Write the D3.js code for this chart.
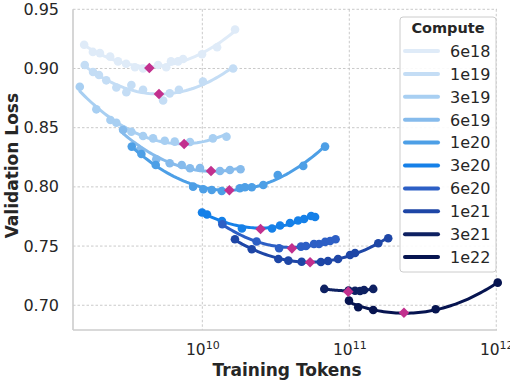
<!DOCTYPE html>
<html>
<head>
<meta charset="utf-8">
<script src="https://cdn.jsdelivr.net/npm/d3@7"></script>
<style>
  html, body { margin: 0; padding: 0; background: #fff; }
  svg { display: block; }
  text { font-family: "DejaVu Sans", sans-serif; }
</style>
</head>
<body>
<svg id="chart" width="510" height="382"></svg>
<script>
// ---------------- DATA ----------------
const computeLabels = ["6e18", "1e19", "3e19", "6e19", "1e20", "3e20", "6e20", "1e21", "3e21", "1e22"];
const seriesColors = ["#dfebf8", "#c4ddf5", "#a8cff2", "#86bbec", "#4d9fe6", "#1580e8", "#2d5fc5", "#1e46a6", "#0e2162", "#061450"];

const tokens_6e18 = [1.57e9, 1.80e9, 2.01e9, 2.36e9, 2.67e9, 3.03e9, 3.48e9, 3.95e9, 5.0e9, 5.68e9, 6.12e9, 6.84e9, 7.40e9, 9.95e9, 1.26e10, 1.67e10];
const loss_6e18   = [0.920, 0.914, 0.913, 0.910, 0.906, 0.904, 0.901, 0.900, 0.903, 0.901, 0.906, 0.906, 0.908, 0.912, 0.918, 0.933];

const tokens_1e19 = [1.585e9, 1.805e9, 1.98e9, 2.22e9, 2.60e9, 3.04e9, 3.29e9, 3.95e9, 5.41e9, 6.0e9, 6.93e9, 1.01e10, 1.62e10];
const loss_1e19   = [0.903, 0.897, 0.8945, 0.890, 0.884, 0.880, 0.886, 0.882, 0.873, 0.879, 0.882, 0.889, 0.900];

const tokens_3e19 = [1.466e9, 1.90e9, 2.37e9, 2.60e9, 2.89e9, 3.29e9, 3.95e9, 4.62e9, 5.55e9, 6.49e9, 8.24e9, 1.18e10, 1.46e10];
const loss_3e19   = [0.8846, 0.8655, 0.8565, 0.8542, 0.8486, 0.8466, 0.8430, 0.8410, 0.8390, 0.8382, 0.8379, 0.8410, 0.8424];

const tokens_6e19 = [2.89e9, 3.75e9, 4.86e9, 6.0e9, 7.24e9, 8.24e9, 9.64e9, 1.318e10, 1.54e10, 1.82e10];
const loss_6e19   = [0.8481, 0.8312, 0.8233, 0.8199, 0.8185, 0.8157, 0.8160, 0.8134, 0.8143, 0.8149];

const tokens_1e20 = [3.31e9, 3.85e9, 4.82e9, 8.65e9, 1.016e10, 1.159e10, 1.355e10, 1.80e10, 1.95e10, 2.17e10, 2.60e10, 3.26e10, 4.86e10, 6.84e10];
const loss_1e20   = [0.8340, 0.8278, 0.8185, 0.8002, 0.7980, 0.7974, 0.7965, 0.7988, 0.7997, 0.7997, 0.8016, 0.8100, 0.8177, 0.8340];

const tokens_3e20 = [9.95e9, 1.076e10, 1.36e10, 1.86e10, 2.98e10, 3.38e10, 3.95e10, 4.48e10, 4.92e10, 5.50e10, 5.85e10];
const loss_3e20   = [0.7784, 0.7767, 0.7712, 0.7649, 0.7649, 0.7674, 0.7695, 0.7716, 0.7729, 0.7754, 0.7746];

const tokens_6e20 = [1.368e10, 2.34e10, 3.33e10, 4.69e10, 5.07e10, 5.75e10, 6.22e10, 6.84e10, 7.40e10, 8.07e10];
const loss_6e20   = [0.7684, 0.7539, 0.7481, 0.7495, 0.7501, 0.7518, 0.7518, 0.7535, 0.7543, 0.7557];

const tokens_1e21 = [1.667e10, 2.17e10, 3.29e10, 3.85e10, 4.74e10, 6.41e10, 7.16e10, 8.38e10, 1.012e11, 1.094e11, 1.574e11, 1.84e11];
const loss_1e21   = [0.7557, 0.7473, 0.7391, 0.7377, 0.7368, 0.7366, 0.7374, 0.7391, 0.7425, 0.7442, 0.7524, 0.7566];

const tokens_3e21 = [6.76e10, 9.89e10, 1.094e11, 1.183e11, 1.259e11, 1.455e11];
const loss_3e21   = [0.7138, 0.7125, 0.7123, 0.7121, 0.7129, 0.7138];

const tokens_1e22 = [9.95e10, 1.15e11, 1.455e11, 3.87e11, 1.023e12];
const loss_1e22   = [0.7039, 0.6983, 0.6960, 0.6966, 0.7191];

// compute-optimal points (diamonds)
const optTokens = [4.36e9, 5.07e9, 7.52e9, 1.146e10, 1.528e10, 2.49e10, 4.07e10, 5.41e10, 9.84e10, 2.355e11];
const optLoss   = [0.9004, 0.8785, 0.8362, 0.8134, 0.7971, 0.7644, 0.7481, 0.7363, 0.7115, 0.6937];

const xTickValues = [1e10, 1e11, 1e12];
const yTickValues = [0.70, 0.75, 0.80, 0.85, 0.90, 0.95];

const allTokens = [tokens_6e18, tokens_1e19, tokens_3e19, tokens_6e19, tokens_1e20, tokens_3e20, tokens_6e20, tokens_1e21, tokens_3e21, tokens_1e22];
const allLoss   = [loss_6e18, loss_1e19, loss_3e19, loss_6e19, loss_1e20, loss_3e20, loss_6e20, loss_1e21, loss_3e21, loss_1e22];

// ---------------- LAYOUT ----------------
const svg = d3.select("#chart");
const plot = { left: 73, right: 497, top: 9.3, bottom: 330 };
const x = d3.scaleLog().domain([Math.pow(10, 9.12), Math.pow(10, 12.005)]).range([plot.left, plot.right]);
const y = d3.scaleLinear().domain([0.6791, 0.95]).range([plot.bottom, plot.top]);

// grid
const grid = svg.append("g");
grid.selectAll("line.gx").data(xTickValues).join("line")
  .attr("x1", d => x(d)).attr("x2", d => x(d))
  .attr("y1", plot.top).attr("y2", plot.bottom)
  .attr("stroke", "#c4c4c4").attr("stroke-width", 0.9).attr("stroke-dasharray", "2.5,2");
grid.selectAll("line.gy").data(yTickValues).join("line")
  .attr("x1", plot.left).attr("x2", plot.right)
  .attr("y1", d => y(d)).attr("y2", d => y(d))
  .attr("stroke", "#c4c4c4").attr("stroke-width", 0.9).attr("stroke-dasharray", "2.5,2");

// spines
svg.append("line").attr("x1", plot.left).attr("x2", plot.left).attr("y1", plot.top).attr("y2", plot.bottom)
  .attr("stroke", "#cccccc").attr("stroke-width", 1.6);
svg.append("line").attr("x1", plot.left).attr("x2", plot.right).attr("y1", plot.bottom).attr("y2", plot.bottom)
  .attr("stroke", "#cccccc").attr("stroke-width", 1.6);

// axes
const yAxis = svg.append("g").attr("transform", `translate(${plot.left},0)`)
  .call(d3.axisLeft(y).tickValues(yTickValues).tickFormat(d3.format(".2f")).tickSize(0).tickPadding(14));
yAxis.select(".domain").remove();
yAxis.selectAll("text").attr("font-size", 16).attr("fill", "#262626").attr("font-family", "DejaVu Sans");

const xAxis = svg.append("g").attr("transform", `translate(0,${plot.bottom})`)
  .call(d3.axisBottom(x).tickValues(xTickValues).tickFormat("").tickSize(0));
xAxis.select(".domain").remove();
xAxis.selectAll(".tick").each(function(d) {
  const t = d3.select(this).append("text")
    .attr("y", 25).attr("text-anchor", "middle")
    .attr("fill", "#262626").attr("font-size", 15.5).attr("font-family", "DejaVu Sans");
  t.append("tspan").text("10");
  t.append("tspan").attr("dy", -6).attr("font-size", 11).text(String(Math.round(Math.log10(d))));
});

// axis labels
svg.append("text").attr("x", 287).attr("y", 376)
  .attr("text-anchor", "middle").attr("font-size", 17).attr("font-weight", "bold").attr("fill", "#262626")
  .text("Training Tokens");
svg.append("text").attr("transform", `translate(18,${(plot.top + plot.bottom) / 2 - 4}) rotate(-90)`)
  .attr("text-anchor", "middle").attr("font-size", 17).attr("font-weight", "bold").attr("fill", "#262626")
  .text("Validation Loss");

// quadratic fit in log10(tokens)
function quadFit(xs, ys) {
  const lx = xs.map(v => Math.log10(v));
  const m = d3.mean(lx);
  const u = lx.map(v => v - m);
  let s0 = u.length, s1 = 0, s2 = 0, s3 = 0, s4 = 0, t0 = 0, t1 = 0, t2 = 0;
  u.forEach((v, i) => { s1 += v; s2 += v*v; s3 += v*v*v; s4 += v*v*v*v; t0 += ys[i]; t1 += v*ys[i]; t2 += v*v*ys[i]; });
  const A = [[s0, s1, s2], [s1, s2, s3], [s2, s3, s4]], b = [t0, t1, t2];
  for (let i = 0; i < 3; i++) {
    for (let k = i + 1; k < 3; k++) {
      const f = A[k][i] / A[i][i];
      for (let j = i; j < 3; j++) A[k][j] -= f * A[i][j];
      b[k] -= f * b[i];
    }
  }
  const c = [0, 0, 0];
  for (let i = 2; i >= 0; i--) {
    let s = b[i];
    for (let j = i + 1; j < 3; j++) s -= A[i][j] * c[j];
    c[i] = s / A[i][i];
  }
  const lo = d3.min(lx), hi = d3.max(lx);
  return d3.range(0, 61).map(k => {
    const l = lo + (hi - lo) * k / 60;
    const uu = l - m;
    return [Math.pow(10, l), c[0] + c[1]*uu + c[2]*uu*uu];
  });
}

const line = d3.line().x(d => x(d[0])).y(d => y(d[1]));
const marks = svg.append("g");
computeLabels.forEach((lab, i) => {
  const g = marks.append("g");
  const pts = allTokens[i].map((t, j) => [t, allLoss[i][j]]);
  g.append("path").datum(quadFit(allTokens[i], allLoss[i])).attr("d", line)
    .attr("fill", "none").attr("stroke", seriesColors[i]).attr("stroke-width", 3).attr("stroke-linecap", "round");
  g.selectAll("circle").data(pts).join("circle")
    .attr("cx", d => x(d[0])).attr("cy", d => y(d[1])).attr("r", 4.3)
    .attr("fill", seriesColors[i]);
});
// diamonds
svg.append("g").selectAll("path").data(optTokens.map((t, i) => [t, optLoss[i]])).join("path")
  .attr("transform", d => `translate(${x(d[0])},${y(d[1])})`)
  .attr("d", d3.symbol(d3.symbolDiamond2, 72))
  .attr("fill", "#c2308e");

// legend
const lg = svg.append("g").attr("transform", "translate(400,17)");
lg.append("rect").attr("x", 0).attr("y", 0).attr("width", 96).attr("height", 255).attr("rx", 3)
  .attr("fill", "#ffffff").attr("fill-opacity", 0.9).attr("stroke", "#cccccc").attr("stroke-width", 1);
lg.append("text").attr("x", 48).attr("y", 16).attr("text-anchor", "middle")
  .attr("font-size", 14.5).attr("font-weight", "bold").attr("fill", "#262626").text("Compute");
computeLabels.forEach((lab, i) => {
  const yy = 34 + i * 22.9;
  lg.append("line").attr("x1", 5).attr("x2", 38).attr("y1", yy).attr("y2", yy)
    .attr("stroke", seriesColors[i]).attr("stroke-width", 4).attr("stroke-linecap", "round");
  lg.append("text").attr("x", 50).attr("y", yy + 5.8).attr("font-size", 16).attr("fill", "#262626").text(lab);
});
</script>
</body>
</html>
